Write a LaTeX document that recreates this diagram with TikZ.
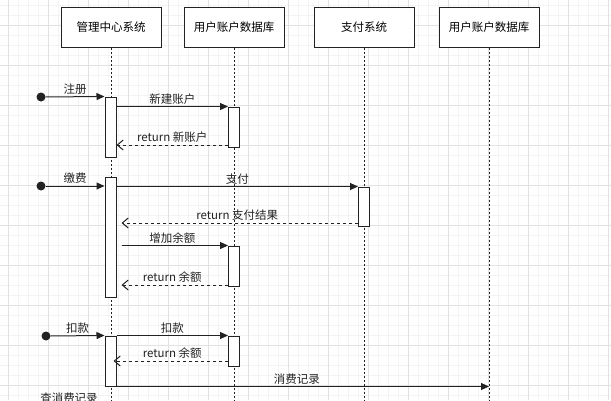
\documentclass[tikz,border=0pt]{standalone}
\usepackage{fontspec}
\setmainfont{Noto Sans CJK SC}
\usetikzlibrary{arrows.meta}
\definecolor{ink}{HTML}{222222}
\definecolor{gmin}{HTML}{F3F3F3}
\definecolor{gmaj}{HTML}{E2E2E2}
\begin{document}
\begin{tikzpicture}[x=1pt,y=-1pt,
  font=\fontsize{11.5}{13}\selectfont,
  head/.style={draw=ink, line width=1pt, fill=white, minimum width=100pt, minimum height=40pt, inner sep=0pt},
  act/.style={draw=ink, line width=1pt, fill=white, minimum width=11pt, inner sep=0pt},
  life/.style={draw=ink, line width=1pt, dash pattern=on 2pt off 2pt},
  msg/.style={draw=ink, line width=1pt, -{Triangle[length=8pt,width=7pt]}},
  ret/.style={draw=ink, line width=1pt, dash pattern=on 3pt off 3pt, -{Straight Barb[length=6pt,width=10pt]}},
  lbl/.style={midway, anchor=south, inner sep=2pt, text=ink},
  startdot/.style={circle, fill=ink, minimum size=9pt, inner sep=0pt}
]
\useasboundingbox (0,0) rectangle (611,400);
\clip (0,0) rectangle (611,400);
\fill[white] (0,0) rectangle (611,400);
% grid
\draw[gmin, line width=0.5pt] foreach \x in {8,18,...,608} {(\x,0) -- (\x,400)};
\draw[gmin, line width=0.5pt] foreach \y in {5,15,...,395} {(0,\y) -- (611,\y)};
\draw[gmaj, line width=0.7pt] foreach \x in {8,48,...,608} {(\x,0) -- (\x,400)};
\draw[gmaj, line width=0.7pt] foreach \y in {25,65,...,385} {(0,\y) -- (611,\y)};

% lifeline heads
\node[head] (h1) at (111,27) {管理中心系统};
\node[head] (h2) at (234,27) {用户账户数据库};
\node[head] (h3) at (364,27) {支付系统};
\node[head] (h4) at (489,27) {用户账户数据库};
\coordinate (e1) at (111,402);
\coordinate (e2) at (234,402);
\coordinate (e3) at (364,402);
\coordinate (e4) at (489,402);
\draw[life] (h1.south) -- (e1);
\draw[life] (h2.south) -- (e2);
\draw[life] (h3.south) -- (e3);
\draw[life] (h4.south) -- (e4);

% activations
\node[act, minimum height=60pt]  (a1) at (110.5,127) {};
\node[act, minimum height=120pt] (a2) at (110.5,237) {};
\node[act, minimum height=50pt]  (a3) at (110.5,361) {};
\node[act, minimum height=40pt]  (b1) at (234,127) {};
\node[act, minimum height=40pt]  (b2) at (234,266) {};
\node[act, minimum height=30pt]  (b3) at (234,351) {};
\node[act, minimum height=39pt]  (c1) at (364,206.5) {};

% start dots
\node[startdot] (s1) at (41,97) {};
\node[startdot] (s2) at (41,186) {};
\node[startdot] (s3) at (46,336) {};

% messages
\draw[msg] (s1) -- (a1.north west) node[lbl] {注册};
\draw[msg] (a1.east |- b1.north) -- (b1.north west) node[lbl] {新建账户};
\draw[ret] (b1.west |- 0,145) -- (a1.east |- 0,145) node[lbl] {return 新账户};

\draw[msg] (s2) -- (a2.west |- s2) node[lbl] {缴费};
\draw[msg] (a2.east |- c1.north) -- (c1.north west) node[lbl] {支付};
\draw[ret, shorten >=5pt] (c1.west |- 0,223) -- (a2.east |- 0,223) node[lbl] {return 支付结果};
\draw[msg, shorten <=5pt] (a2.east |- b2.north) -- (b2.north west) node[lbl] {增加余额};
\draw[ret, shorten >=5pt] (b2.west |- 0,285) -- (a2.east |- 0,285) node[lbl] {return 余额};

\draw[msg] (s3) -- (a3.north west) node[lbl] {扣款};
\draw[msg] (a3.east |- b3.north) -- (b3.north west) node[lbl] {扣款};
\draw[ret, shorten >=-3pt] (b3.west |- 0,361) -- (a3.east |- 0,361) node[lbl] {return 余额};
\draw[msg] (a3.south west) -- (e4 |- a3.south) node[lbl] {消费记录};

\node[text=ink] (q) at (69,398) {查消费记录};
\end{tikzpicture}
\end{document}
